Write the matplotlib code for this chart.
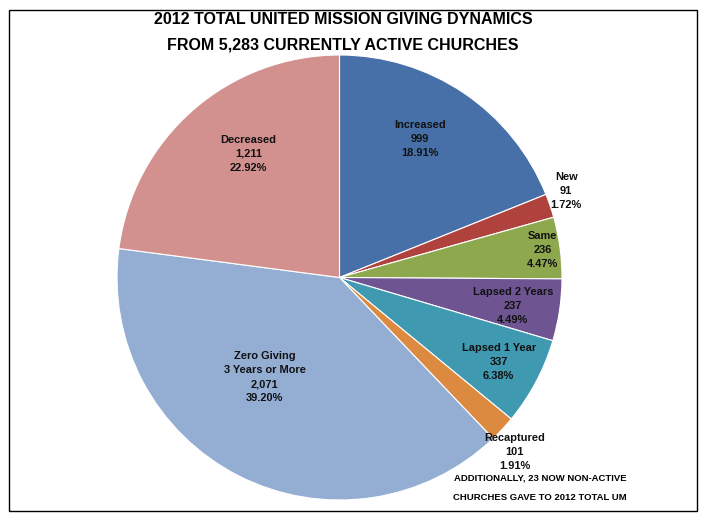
import numpy as np
import matplotlib
matplotlib.use("Agg")
import matplotlib.pyplot as plt
from matplotlib.patches import Rectangle

# data
names = ["Increased", "New", "Same", "Lapsed 2 Years", "Lapsed 1 Year",
         "Recaptured", "Zero Giving\n3 Years or More", "Decreased"]
counts = [999, 91, 236, 237, 337, 101, 2071, 1211]
pcts = ["18.91%", "1.72%", "4.47%", "4.49%", "6.38%", "1.91%", "39.20%", "22.92%"]

colors = ["#4870A8", "#B0423E", "#8EA84E", "#6E5592", "#3F99B1",
          "#DB8A3F", "#94ADD3", "#D2918E"]
# radial position of each label, as fraction of radius, and angle nudge (deg)
label_r = [0.72, 1.09, 0.92, 0.79, 0.81, 1.11, 0.56, 0.69]
label_dang = [4, 2, 0, -1, 0, -2, -10, -5]

W, H = 709, 522
fig = plt.figure(figsize=(W / 100, H / 100), dpi=100)
plt.rcParams['font.family'] = ['Liberation Sans', 'DejaVu Sans']

# border box
fig.patches.append(Rectangle((9 / W, 1 - 511 / H), 688 / W, 501 / H,
                             transform=fig.transFigure, fill=False,
                             edgecolor="black", linewidth=1.0))

cx, cy, R = 339.5, 277.5, 222.5
ax = fig.add_axes([(cx - R) / W, 1 - (cy + R) / H, 2 * R / W, 2 * R / H])
wedges, _ = ax.pie(counts, colors=colors, startangle=90, counterclock=False,
                   radius=1.0, wedgeprops=dict(edgecolor="white", linewidth=0.8))
ax.set_xlim(-1, 1)
ax.set_ylim(-1, 1)
ax.set_aspect("equal")
ax.axis("off")

for w, n, c, p, r, d in zip(wedges, names, counts, pcts, label_r, label_dang):
    ang = np.deg2rad((w.theta1 + w.theta2) / 2 + d)
    ax.text(r * np.cos(ang), r * np.sin(ang), "%s\n%s\n%s" % (n, format(c, ","), p),
            ha="center", va="center", fontsize=7.9, fontweight="bold",
            color="#111111", linespacing=1.5, clip_on=False)

fig.text(343 / W, 1 - 20 / H, "2012 TOTAL UNITED MISSION GIVING DYNAMICS",
         ha="center", va="center", fontsize=11.5, fontweight="bold")
fig.text(343 / W, 1 - 45 / H, "FROM 5,283 CURRENTLY ACTIVE CHURCHES",
         ha="center", va="center", fontsize=11.5, fontweight="bold")

fig.text(540 / W, 1 - 478 / H, "ADDITIONALLY, 23 NOW NON-ACTIVE",
         ha="center", va="center", fontsize=6.8, fontweight="bold")
fig.text(540 / W, 1 - 497 / H, "CHURCHES GAVE TO 2012 TOTAL UM",
         ha="center", va="center", fontsize=6.8, fontweight="bold")

fig.savefig("out.png", dpi=100)
